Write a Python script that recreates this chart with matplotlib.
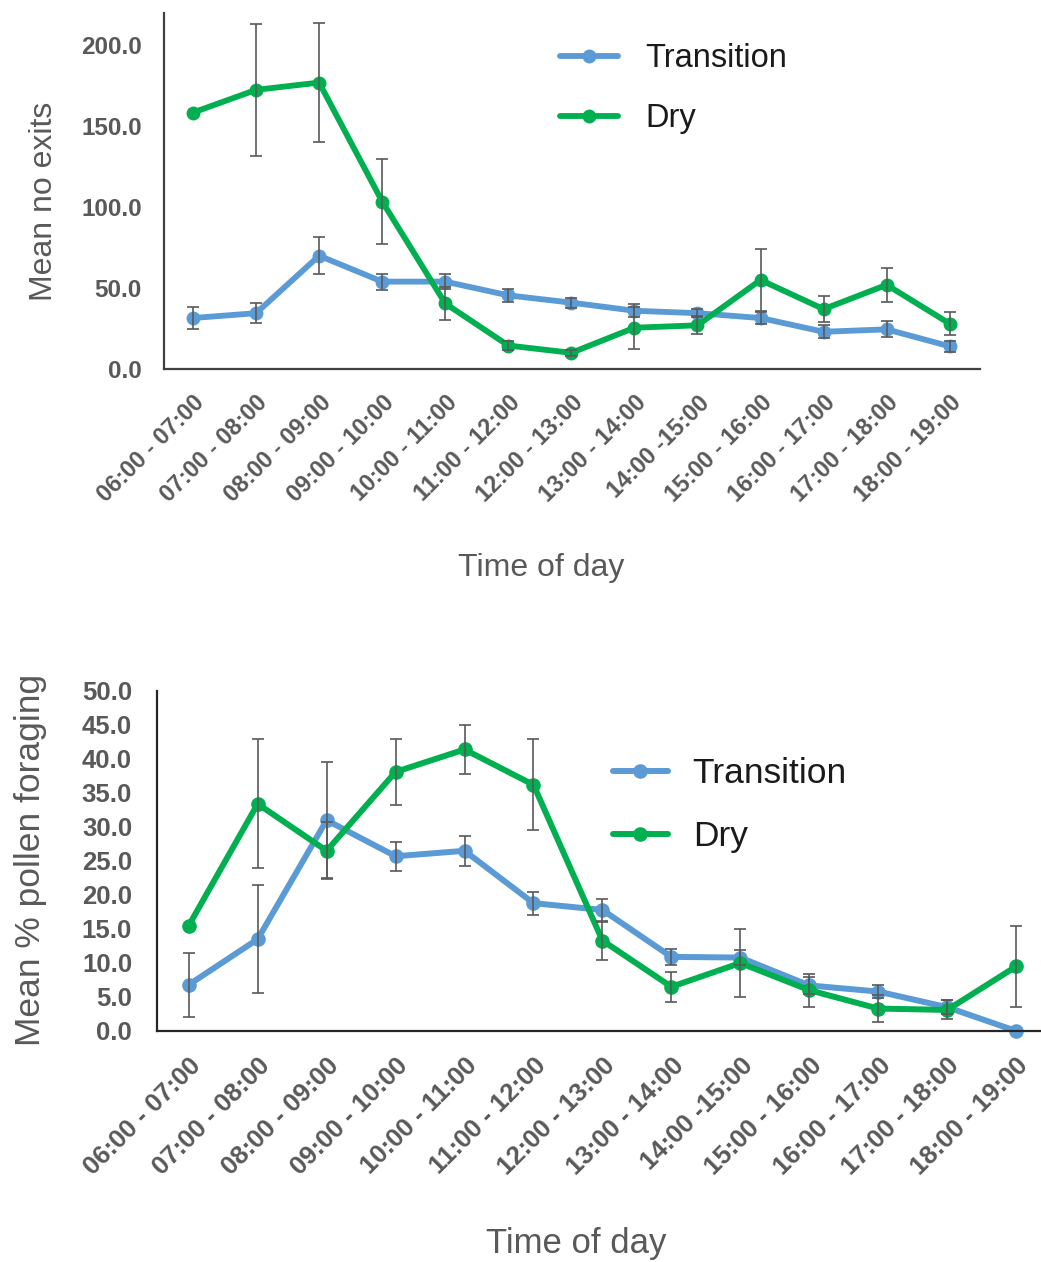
import numpy as np
import matplotlib
matplotlib.use("Agg")
import matplotlib.pyplot as plt

plt.rcParams['font.family'] = ['Liberation Sans', 'DejaVu Sans']

# time slots (same for both panels)
slots = ["06:00 - 07:00", "07:00 - 08:00", "08:00 - 09:00", "09:00 - 10:00",
         "10:00 - 11:00", "11:00 - 12:00", "12:00 - 13:00", "13:00 - 14:00",
         "14:00 -15:00", "15:00 - 16:00", "16:00 - 17:00", "17:00 - 18:00",
         "18:00 - 19:00"]

# top panel: mean number of exits
exits_transition = [31.5, 34.5, 70, 54, 54, 45.5, 41, 36, 34.5, 31.5, 23, 24.5, 14]
exits_transition_err = [7, 6, 11.5, 5, 4.5, 4, 3, 4, 2.5, 3.5, 4, 5, 3.6]
exits_dry = [158.5, 172.5, 177, 103.5, 40.5, 14.5, 10, 25.5, 27, 55, 37, 52, 28]
exits_dry_err = [np.nan, 41, 37, 26, 10, 3, 2, 13, 5.5, 19, 8, 10.5, 7.2]

# bottom panel: mean % pollen foraging
pollen_transition = [6.8, 13.5, 31, 25.7, 26.5, 18.8, 17.8, 10.9, 10.8, 6.7, 5.8, 3.5, 0.0]
pollen_transition_err = [4.7, 7.9, 8.5, 2.1, 2.2, 1.7, 1.6, 1.2, 1.1, 1.3, 1.0, 1.0, np.nan]
pollen_dry = [15.5, 33.4, 26.5, 38.1, 41.4, 36.2, 13.3, 6.5, 10.0, 6.0, 3.3, 3.1, 9.5]
pollen_dry_err = [np.nan, 9.5, 4.2, 4.8, 3.6, 6.7, 2.8, 2.2, 5.0, 2.4, 2.0, 1.4, 6.0]

BLUE = "#5B9BD5"
GREEN = "#00B050"
GREY = "#595959"

W, H = 1041, 1262
fig = plt.figure(figsize=(W / 100, H / 100), dpi=100)


def px_axes(left, top, right, bottom):
    return fig.add_axes([left / W, 1 - bottom / H, (right - left) / W, (bottom - top) / H])


def panel(ax, trans, trans_err, dry, dry_err, ylim, yticks, tick_fs, xtick_fs,
          ypad, lw, ms, spine_col):
    x = np.arange(len(slots))
    ax.plot(x, trans, color=BLUE, lw=lw, marker='o', ms=ms, label="Transition",
            zorder=2, solid_capstyle='round')
    ax.plot(x, dry, color=GREEN, lw=lw, marker='o', ms=ms, label="Dry",
            zorder=3, solid_capstyle='round')
    ax.errorbar(x, trans, yerr=trans_err, fmt='none', ecolor=GREY, elinewidth=1.2,
                capsize=4.5, capthick=1.2, zorder=4)
    ax.errorbar(x, dry, yerr=dry_err, fmt='none', ecolor=GREY, elinewidth=1.2,
                capsize=4.5, capthick=1.2, zorder=4)

    ax.set_ylim(*ylim)
    ax.set_yticks(yticks)
    ax.set_yticklabels([f"{v:.1f}" for v in yticks])
    ax.set_xticks(x)
    ax.set_xticklabels(slots, rotation=45, ha='right', va='top',
                       rotation_mode='anchor')
    for s in ['top', 'right']:
        ax.spines[s].set_visible(False)
    for s in ['left', 'bottom']:
        ax.spines[s].set_color(spine_col)
        ax.spines[s].set_linewidth(1.6)
    ax.tick_params(axis='both', length=0)
    ax.tick_params(axis='y', labelsize=tick_fs, labelcolor=GREY, pad=ypad)
    ax.tick_params(axis='x', labelsize=xtick_fs, labelcolor=GREY, pad=16)
    for lab in ax.get_yticklabels() + ax.get_xticklabels():
        lab.set_fontweight('bold')


# top panel
ax1 = px_axes(164, 13, 980, 369)
panel(ax1, exits_transition, exits_transition_err, exits_dry, exits_dry_err,
      (0, 220), [0, 50, 100, 150, 200], 17.5, 16.8, 16, 4.2, 9, "#404040")
ax1.set_xlim(-0.46, 12.48)
ax1.legend(loc='upper left', bbox_to_anchor=(560 / W, 1 - 43 / H),
           bbox_transform=fig.transFigure, frameon=False, fontsize=23.5,
           handlelength=1.78, handletextpad=0.83, labelspacing=0.9,
           borderpad=0, borderaxespad=0, labelcolor='#1a1a1a')
fig.text(44 / W, 1 - 201 / H, "Mean no exits", rotation=90, ha='center',
         va='center', fontsize=23, color=GREY)
fig.text(541 / W, 1 - 568 / H, "Time of day", ha='center', va='center',
         fontsize=23, color=GREY)

# bottom panel
ax2 = px_axes(157, 691, 1041, 1031)
panel(ax2, pollen_transition, pollen_transition_err, pollen_dry, pollen_dry_err,
      (0, 50), np.arange(0, 51, 5), 18.5, 18.5, 18, 4.3, 9.5, "#262626")
ax2.set_xlim(-0.46, 12.36)
for ln in ax2.lines:
    ln.set_clip_on(False)
ax2.legend(loc='upper left', bbox_to_anchor=(613 / W, 1 - 757 / H),
           bbox_transform=fig.transFigure, frameon=False, fontsize=25.5,
           handlelength=1.55, handletextpad=0.7, labelspacing=0.85,
           borderpad=0, borderaxespad=0, labelcolor='#1a1a1a')
fig.text(31 / W, 1 - 860 / H, "Mean % pollen foraging", rotation=90, ha='center',
         va='center', fontsize=25.5, color=GREY)
fig.text(576 / W, 1 - 1244 / H, "Time of day", ha='center', va='center',
         fontsize=25, color=GREY)

fig.savefig("out.png", dpi=100)
